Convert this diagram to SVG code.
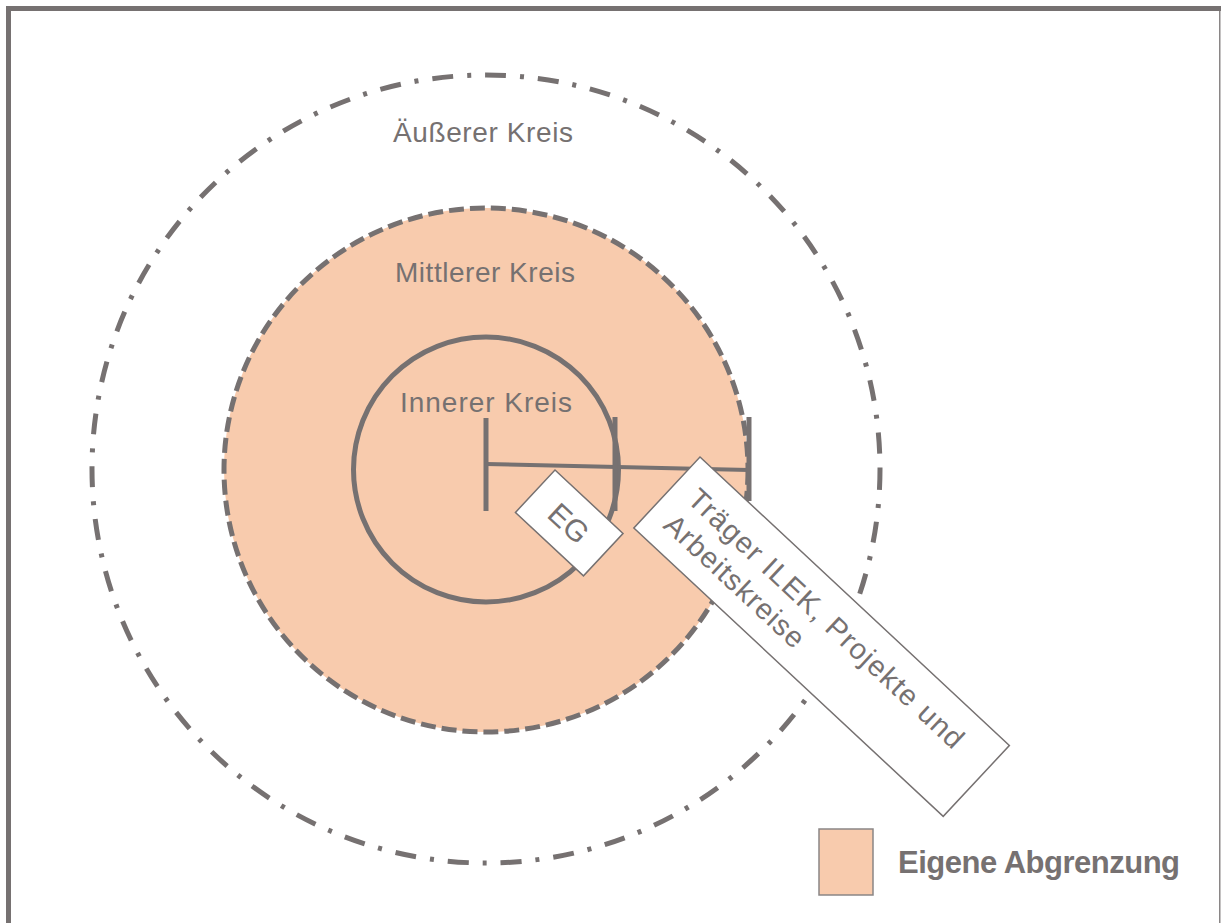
<svg xmlns="http://www.w3.org/2000/svg" width="1221" height="923" viewBox="0 0 1221 923">
  <style>
    .lbl { font-family: "Liberation Sans", Arial, sans-serif; fill: #767171; }
    .ln { stroke: #767171; fill: none; }
    .box { fill: #ffffff; stroke: #767171; stroke-width: 1.5; }
  </style>
  <rect x="0" y="0" width="1221" height="923" fill="#ffffff"/>
  <g id="frame">
    <rect x="6" y="6" width="1215" height="5" fill="#767171"/>
    <rect x="6" y="6" width="5" height="917" fill="#767171"/>
    <rect x="1219" y="11" width="1.5" height="912" fill="#8a8686"/>
  </g>
  <g id="outer-circle">
    <circle cx="486" cy="469" r="394" class="ln" stroke-width="5" stroke-dasharray="21 14 4 14"/>
    <text class="lbl" x="393" y="142" font-size="28" textLength="180">Äußerer Kreis</text>
  </g>
  <g id="middle-circle">
    <circle cx="486" cy="470" r="262" style="fill:#F8CBAD" stroke="#767171" stroke-width="5" stroke-dasharray="15 6"/>
    <text class="lbl" x="395" y="282" font-size="28" textLength="180">Mittlerer Kreis</text>
  </g>
  <g id="inner-circle">
    <circle cx="486" cy="469.5" r="132.5" class="ln" stroke-width="5"/>
    <text class="lbl" x="400" y="412" font-size="28" textLength="172">Innerer Kreis</text>
  </g>
  <g id="connectors">
    <line x1="486" y1="464" x2="749" y2="470" class="ln" stroke-width="4"/>
    <line x1="486" y1="418" x2="486" y2="511" class="ln" stroke-width="5"/>
    <line x1="615" y1="417" x2="615" y2="511" class="ln" stroke-width="5"/>
    <line x1="749" y1="417" x2="749" y2="501" class="ln" stroke-width="5"/>
  </g>
  <g id="eg" transform="translate(555,470) rotate(43)">
    <rect x="0" y="0" width="93" height="58" class="box"/>
    <text class="lbl" x="46.5" y="40" font-size="30" text-anchor="middle">EG</text>
  </g>
  <g id="traeger" transform="translate(700,457) rotate(43)">
    <rect x="0" y="0" width="423" height="97" class="box"/>
    <text class="lbl" x="20" y="42" font-size="29" textLength="365">Träger ILEK, Projekte und</text>
    <text class="lbl" x="20" y="77" font-size="29" textLength="180">Arbeitskreise</text>
  </g>
  <g id="legend">
    <rect x="819" y="829" width="54" height="66" fill="#F8CBAD" stroke="#8a8686" stroke-width="1.5"/>
    <text class="lbl" x="898" y="873" font-size="31" font-weight="bold" textLength="282">Eigene Abgrenzung</text>
  </g>
</svg>
